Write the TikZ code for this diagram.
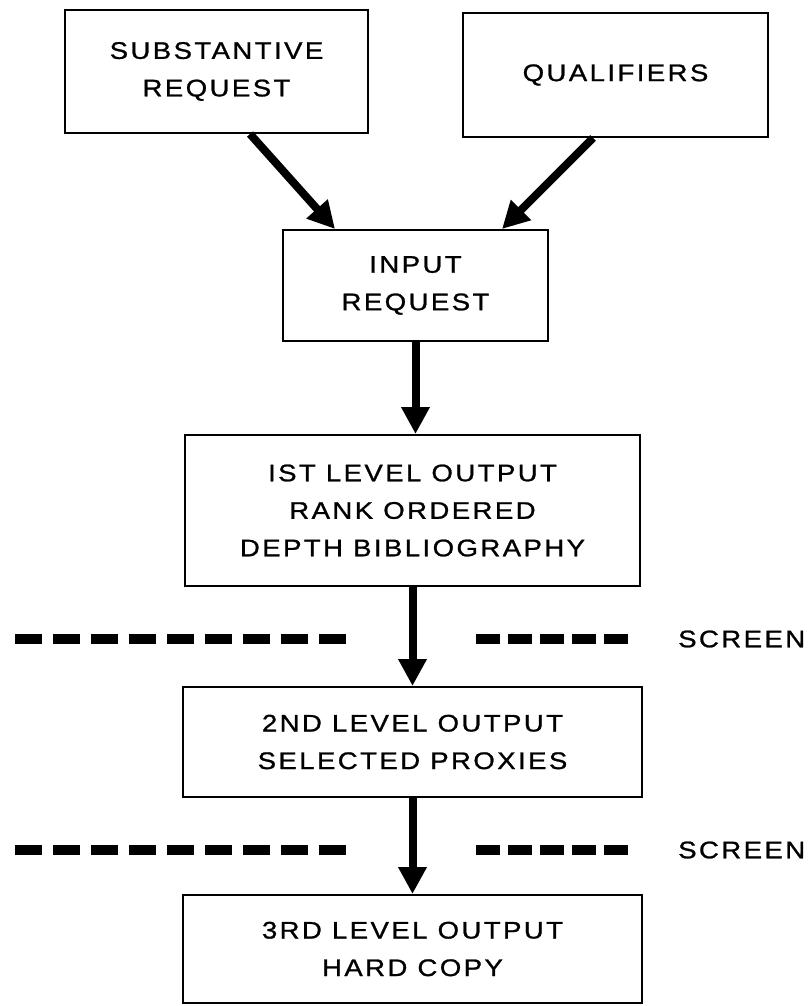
\documentclass[tikz,border=0pt]{standalone}
\usepackage{fontspec}
\setmainfont{Liberation Sans}[FakeStretch=1.15, LetterSpace=10, FakeBold=1]
\usetikzlibrary{arrows.meta}
\newcommand\letterfont{\fontsize{24}{37.5}\selectfont}
\begin{document}
\begin{tikzpicture}[x=1pt,y=-1pt,
  stagebox/.style={draw=black, line width=2pt, fill=white, inner sep=0pt,
    align=center, font=\letterfont},
  flow/.style={line width=8pt, -{Triangle[length=27pt,width=27pt]}},
  screenline/.style={line width=10pt, line cap=butt},
  screenlabel/.style={font=\letterfont, inner sep=0pt, anchor=west}]
\useasboundingbox (0,0) rectangle (809,1006);
\fill[white] (0,0) rectangle (809,1006);

% stages of the request
\node[stagebox, minimum width=303pt, minimum height=123pt] (sub) at (216.5,71.5)
  {SUBSTANTIVE\\REQUEST};
\node[stagebox, minimum width=305pt, minimum height=124pt] (qual) at (615.5,75)
  {QUALIFIERS};
\node[stagebox, minimum width=265pt, minimum height=111pt] (input) at (415.5,285.5)
  {INPUT\\REQUEST};
\node[stagebox, minimum width=455pt, minimum height=151pt] (first) at (412.5,510.5)
  {IST LEVEL OUTPUT\\RANK ORDERED\\DEPTH BIBLIOGRAPHY};
\node[stagebox, minimum width=459pt, minimum height=110pt] (second) at (412.5,742)
  {2ND LEVEL OUTPUT\\SELECTED PROXIES};
\node[stagebox, minimum width=459pt, minimum height=108pt] (third) at (412.5,949)
  {3RD LEVEL OUTPUT\\HARD COPY};

% flow arrows
\draw[flow] ([xshift=33.5pt]sub.south) -- ([xshift=-80.5pt]input.north);
\draw[flow] ([xshift=-22.5pt]qual.south) -- ([xshift=86.5pt]input.north);
\draw[flow] (input.south) -- (input.south |- first.north);
\draw[flow] (first.south) -- (second.north);
\draw[flow] (second.south) -- (third.north);

% screening levels
\coordinate (s1l) at (15,639);
\coordinate (s1m) at (350,639);
\coordinate (s1r) at (476,639);
\coordinate (s1e) at (630,639);
\coordinate (s2l) at (15,850);
\coordinate (s2m) at (350,850);
\coordinate (s2r) at (476,850);
\coordinate (s2e) at (630,850);
\draw[screenline, dash pattern=on 27pt off 11pt] (s1l) -- (s1m);
\draw[screenline, dash pattern=on 24pt off 8pt] (s1r) -- (s1e);
\node[screenlabel] (scr1) at (678,639) {SCREEN};
\draw[screenline, dash pattern=on 27pt off 11pt] (s2l) -- (s2m);
\draw[screenline, dash pattern=on 24pt off 8pt] (s2r) -- (s2e);
\node[screenlabel] (scr2) at (678,850) {SCREEN};
\end{tikzpicture}
\end{document}
